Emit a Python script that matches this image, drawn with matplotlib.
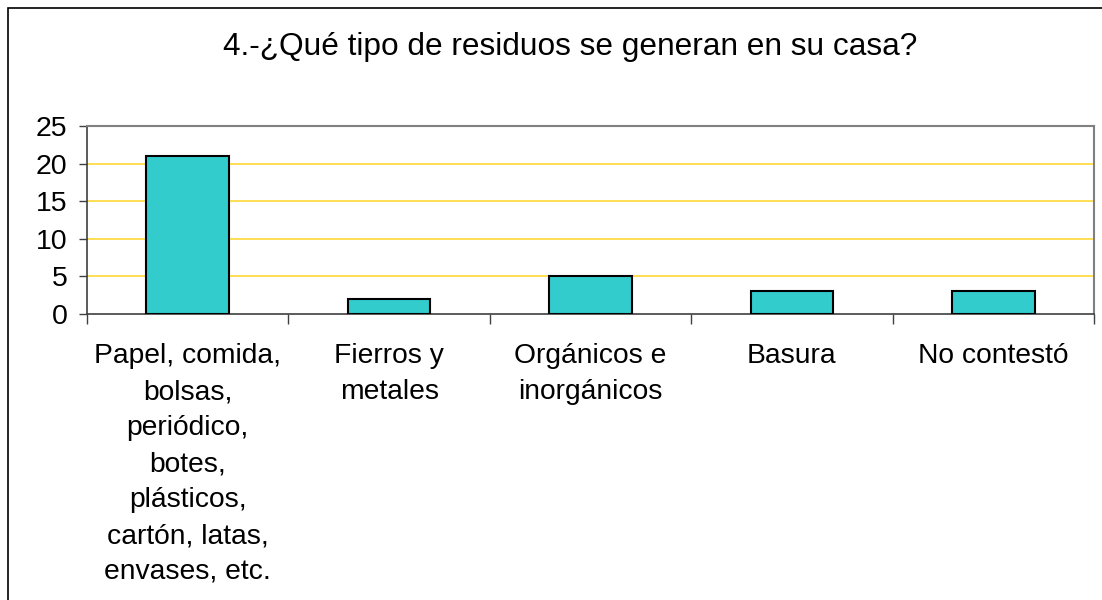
import matplotlib.pyplot as plt
from matplotlib.patches import Rectangle

categories = ['Papel, comida,\nbolsas,\nperiódico,\nbotes,\nplásticos,\ncartón, latas,\nenvases, etc.',
              'Fierros y\nmetales', 'Orgánicos e\ninorgánicos', 'Basura', 'No contestó']
values = [21, 2, 5, 3, 3]
yticks = [0, 5, 10, 15, 20, 25]

plt.rcParams['font.family'] = ['Liberation Sans', 'DejaVu Sans']

fig = plt.figure(figsize=(11.02, 6), dpi=100)
W, H = 1102, 600
ax = fig.add_axes([87 / W, 1 - 314 / H, (1094 - 87) / W, (314 - 126) / H])

# chart border (only left and top edges fall inside the image)
fig.patches.append(Rectangle((8 / W, -0.01), 1.0, 1 - 8 / H + 0.01,
                             transform=fig.transFigure, fill=False,
                             edgecolor='black', linewidth=1.2))

x = range(len(values))
ax.bar(x, values, width=0.41, color='#33CCCC', edgecolor='black', linewidth=1.5, zorder=3)

ax.set_xlim(-0.5, len(values) - 0.5)
ax.set_ylim(0, 25)
ax.set_yticks(yticks)
ax.tick_params(axis='y', labelsize=20.5, length=6, width=1, color='#404040', pad=8)
for y in yticks[1:]:
    ax.axhline(y, color='#FFD83A', linewidth=1.2, zorder=1)

# category boundary ticks, labels centered below
ax.set_xticks([i - 0.5 for i in range(len(values) + 1)], minor=False)
ax.set_xticklabels([''] * (len(values) + 1))
ax.tick_params(axis='x', length=7, width=1, color='#404040', direction='out')
ax.set_xticks(list(x), minor=True)
ax.set_xticklabels(categories, minor=True, fontsize=20.3, va='top', linespacing=1.5)
ax.tick_params(axis='x', which='minor', length=0, pad=21)

for s in ['top', 'right']:
    ax.spines[s].set_color('#808080')
    ax.spines[s].set_linewidth(1.5)
for s in ['left', 'bottom']:
    ax.spines[s].set_color('#404040')
    ax.spines[s].set_linewidth(1.2)

fig.text(570 / W, 1 - 47 / H, '4.-¿Qué tipo de residuos se generan en su casa?',
         ha='center', va='center', fontsize=22.8)

fig.savefig('out.png', dpi=100)
